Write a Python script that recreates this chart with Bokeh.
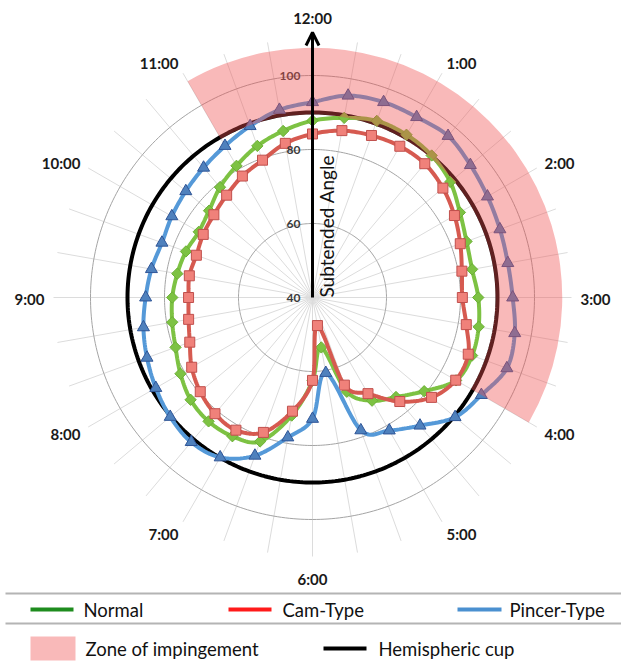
import numpy as np
from bokeh.plotting import figure
from bokeh.models import Range1d, Arrow, OpenHead
from bokeh.core.properties import value
from bokeh.embed import file_html
from bokeh.resources import INLINE

# ---------------- data ----------------
angles_deg = list(range(0, 360, 10))          # clockwise from 12:00
normal = [87.8, 89.3, 90.8, 90.8, 90.1, 88.6, 86.0, 84.3, 83.8, 84.8, 85.6, 85.9,
          84.8, 79.4, 75.1, 72.2, 67.1, 53.7, 62.5, 72.4, 81.4, 83.3, 83.7, 83.0,
          81.2, 79.4, 78.5, 77.9, 77.1, 76.4, 75.5, 76.5, 78.9, 81.1, 83.6, 85.7]
cam = [84.2, 85.8, 86.6, 87.2, 87.2, 86.0, 84.3, 82.5, 81.0, 80.5, 82.2, 84.8,
       84.7, 82.0, 76.7, 70.0, 65.2, 47.7, 62.4, 71.2, 78.8, 81.4, 81.0, 79.6,
       77.7, 75.3, 74.0, 73.5, 73.8, 73.4, 74.1, 74.8, 76.1, 77.9, 79.5, 82.3]
pincer = [92.8, 95.4, 96.2, 96.3, 97.0, 95.7, 94.6, 93.9, 93.6, 94.1, 95.5, 95.9,
          92.7, 90.3, 85.2, 81.5, 78.2, 60.7, 72.8, 78.4, 85.5, 89.9, 91.0, 90.2,
          88.9, 87.6, 86.4, 85.1, 84.2, 83.3, 83.9, 84.7, 85.8, 87.3, 89.3, 91.5]
cup_value = 90
zone_inner, zone_outer = 89.5, 107.5
zone_start_deg, zone_end_deg = -30, 120
ring_values = [60, 80, 100]
r_min, r_max = 40, 110
clock_labels = ["12:00", "1:00", "2:00", "3:00", "4:00", "5:00",
                "6:00", "7:00", "8:00", "9:00", "10:00", "11:00"]
series_names = ["Normal", "Cam-Type", "Pincer-Type"]
zone_name = "Zone of impingement"
cup_name = "Hemispheric cup"
axis_title = "Subtended Angle"

# ---------------- layout ----------------
SCALE = 3.7            # px per unit
CX, CY = 312, 297      # canvas px of polar centre
W, H = 621, 662

def page(X, Y):
    return (X - CX) / SCALE, (CY - Y) / SCALE

def polar(vals, ang):
    r = np.asarray(vals, dtype=float) - r_min
    th = np.radians(ang)
    return r * np.sin(th), r * np.cos(th)

def smooth_closed(x, y, n=12):
    P = np.column_stack([x, y])
    N = len(P)
    out = []
    t = np.linspace(0, 1, n, endpoint=False)[:, None]
    for i in range(N):
        p0, p1, p2, p3 = P[i - 1], P[i], P[(i + 1) % N], P[(i + 2) % N]
        c1 = p1 + (p2 - p0) / 6.0
        c2 = p2 - (p3 - p1) / 6.0
        seg = (1 - t) ** 3 * p1 + 3 * (1 - t) ** 2 * t * c1 + 3 * (1 - t) * t ** 2 * c2 + t ** 3 * p2
        out.append(seg)
    out.append(P[:1])
    S = np.vstack(out)
    return S[:, 0], S[:, 1]

p = figure(width=W, height=H,
           x_range=Range1d(-CX / SCALE, (W - CX) / SCALE),
           y_range=Range1d((CY - H) / SCALE, CY / SCALE),
           output_backend="svg", toolbar_location=None, min_border=0)
p.axis.visible = False
p.grid.visible = False
p.outline_line_color = None
p.background_fill_color = "white"
p.border_fill_color = "white"

# spokes
sx, sy = [], []
for a in angles_deg:
    ex, ey = polar([r_max], [a])
    sx.append([0, ex[0]]); sy.append([0, ey[0]])
p.multi_line(sx, sy, line_color="#dcdcdc", line_width=1)

# rings
full = np.linspace(0, 360, 361)
for rv in ring_values:
    rx, ry = polar(np.full_like(full, rv), full)
    p.line(rx, ry, line_color="#a4a4a4", line_width=1)

# hemispheric cup
cx_, cy_ = polar(np.full_like(full, cup_value), full)
p.line(cx_, cy_, line_color="black", line_width=4)

# series
styles = [
    (normal, "#7DC243", "square", 8, np.pi / 4, "#7DC243", "#6BB035"),
    (cam, "#D65A50", "square", 10, 0.0, "#F0817A", "#C0504D"),
    (pincer, "#5599D8", "triangle", 12, 0.0, "#4F81BD", "#2F5597"),
]
for vals, lc, mk, ms, ang, fc, ec in styles:
    px_, py_ = polar(vals, angles_deg)
    lx, ly = smooth_closed(px_, py_)
    p.line(lx, ly, line_color=lc, line_width=4)
    p.scatter(px_, py_, marker=mk, size=ms, angle=ang, fill_color=fc, line_color=ec, line_width=1)

# radial tick labels
lab_x = (300 - CX) / SCALE
p.text(x=[lab_x] * 4, y=[v - r_min for v in [40] + ring_values],
       text=[str(v) for v in [40] + ring_values], text_align="right", text_baseline="middle",
       text_font=value("Lato"), text_font_style="bold", text_font_size="12px", text_color="#3a3a3a")

# zone of impingement (translucent, drawn over the lines)
p.annular_wedge(x=0, y=0, inner_radius=zone_inner - r_min, outer_radius=zone_outer - r_min,
                start_angle=np.radians(90 - zone_end_deg), end_angle=np.radians(90 - zone_start_deg),
                fill_color=(240, 80, 80), fill_alpha=0.4, line_color=None)

# axis arrow
p.add_layout(Arrow(end=OpenHead(size=13, line_width=3, line_color="black"),
                   x_start=0, y_start=0, x_end=0, y_end=265 / SCALE,
                   line_width=3, line_color="black"))
p.text(x=[(314 - CX) / SCALE], y=[0], text=[axis_title], angle=np.pi / 2,
       text_align="left", text_baseline="top", text_font=value("Lato"),
       text_font_size="19px", text_color="#111111")

# clock labels: anchored at the end of each 30-degree spoke, aligned outward
LABEL_R = 268 / SCALE
groups = {}
for i, lab in enumerate(clock_labels):
    if i == 0:
        key = ("center", "bottom")
    elif i == 6:
        key = ("center", "top")
    elif i < 6:
        key = ("left", "middle")
    else:
        key = ("right", "middle")
    th = np.radians(i * 30)
    dy = (3.5 * np.cos(th) - 1.0) / SCALE
    groups.setdefault(key, ([], [], []))
    groups[key][0].append(LABEL_R * np.sin(th))
    groups[key][1].append(LABEL_R * np.cos(th) + dy)
    groups[key][2].append(lab)
for (al, bl), (gx, gy, gt) in groups.items():
    p.text(x=gx, y=gy, text=gt, text_align=al, text_baseline=bl, text_font=value("Lato"),
           text_font_style="bold", text_font_size="15px", text_color="#1a1a1a")

# ---------------- legend ----------------
def hline(X0, X1, Y, color, w):
    a = page(X0, Y); b = page(X1, Y)
    p.segment(x0=[a[0]], y0=[a[1]], x1=[b[0]], y1=[b[1]], line_color=color, line_width=w)

def ltext(X, Y, s):
    a = page(X, Y)
    p.text(x=[a[0]], y=[a[1]], text=[s], text_align="left", text_baseline="middle",
           text_font=value("Lato"), text_font_size="18.5px", text_color="#111111")

hline(5, 621, 593, "#b4b4b4", 2)
hline(5, 621, 623, "#b4b4b4", 2)
leg_colors = ["#1E8C1E", "#FF1A1A", "#4A90D0"]
leg_x = [(30, 73, 83), (228, 271, 282), (457, 501, 509)]
for name, col, (a, b, t) in zip(series_names, leg_colors, leg_x):
    hline(a, b, 609, col, 4)
    ltext(t, 609, name)

q0 = page(30, 636); q1 = page(75, 660)
p.quad(left=[q0[0]], right=[q1[0]], top=[q0[1]], bottom=[q1[1]],
       fill_color="#F9B9B9", line_color=None)
ltext(85, 648, zone_name)
hline(323, 366, 648, "black", 4)
ltext(378, 648, cup_name)

open("out.html", "w").write(file_html(p, INLINE))
